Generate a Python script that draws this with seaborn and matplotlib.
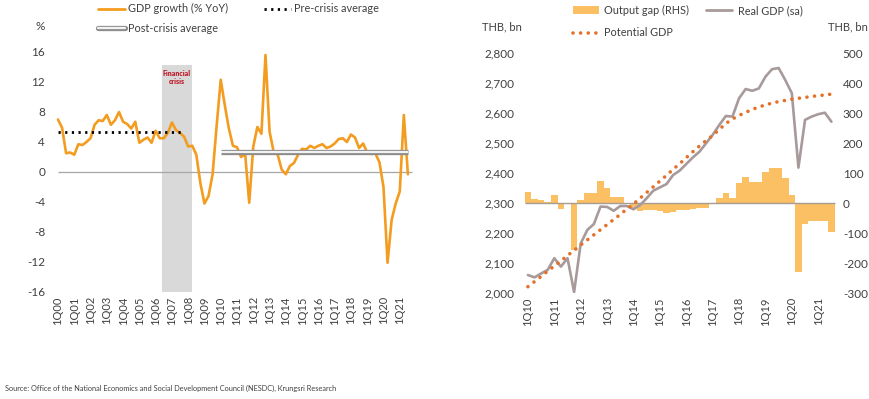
import numpy as np
import matplotlib
matplotlib.use("Agg")
import matplotlib.pyplot as plt
import seaborn as sns
from matplotlib.lines import Line2D
from matplotlib.patches import Patch

# --- DATA ---
# left panel: GDP growth % YoY, 1Q00 .. 3Q21
gdp_growth = [7.0, 5.9, 2.5, 2.6, 2.3, 3.7, 3.6, 4.0, 4.5, 6.3, 6.9, 6.8,
              7.6, 6.3, 6.9, 8.0, 6.7, 6.4, 5.8, 6.7, 3.9, 4.3, 4.6, 3.9,
              5.5, 4.5, 4.5, 5.2, 6.6, 5.6, 5.2, 4.7, 3.4, 3.5, 2.3, -1.5,
              -4.2, -3.2, -0.3, 6.2, 12.3, 8.9, 5.8, 3.5, 3.3, 2.0, 2.4, -4.1,
              3.4, 6.0, 5.1, 15.6, 5.4, 2.7, 2.3, 0.3, -0.3, 0.8, 1.2, 2.3,
              3.1, 3.0, 3.5, 3.2, 3.5, 3.7, 3.2, 3.4, 3.8, 4.4, 4.5, 4.0,
              5.0, 4.6, 3.2, 3.8, 2.6, 2.4, 2.5, 1.3, -2.0, -12.1, -6.4, -4.2,
              -2.6, 7.6, -0.3]
pre_crisis_avg = 5.3     # 1Q00 .. 4Q07
post_crisis_avg = 2.7    # 1Q10 .. 3Q21
left_xlabels = ["1Q00", "1Q01", "1Q02", "1Q03", "1Q04", "1Q05", "1Q06",
                "1Q07", "1Q08", "1Q09", "1Q10", "1Q11", "1Q12", "1Q13",
                "1Q14", "1Q15", "1Q16", "1Q17", "1Q18", "1Q19", "1Q20", "1Q21"]
left_yticks = [-16, -12, -8, -4, 0, 4, 8, 12, 16]

# right panel: 1Q10 .. 3Q21, THB bn
real_gdp = [2060, 2052, 2065, 2077, 2116, 2088, 2116, 2003, 2165, 2210,
            2230, 2288, 2287, 2274, 2290, 2290, 2279, 2293, 2316, 2341,
            2352, 2363, 2393, 2408, 2430, 2452, 2471, 2499, 2527, 2560,
            2590, 2588, 2649, 2680, 2674, 2682, 2721, 2746, 2750, 2710,
            2666, 2418, 2577, 2588, 2596, 2601, 2571]
potential_gdp = [2021, 2038, 2055, 2073, 2090, 2107, 2125, 2142, 2160, 2177,
                 2194, 2211, 2228, 2245, 2262, 2280, 2297, 2316, 2335, 2354,
                 2373, 2392, 2412, 2431, 2451, 2471, 2490, 2508, 2525, 2545,
                 2565, 2580, 2592, 2602, 2612, 2620, 2627, 2633, 2638, 2642,
                 2646, 2649, 2652, 2655, 2658, 2660, 2663]
output_gap = [36, 13, 9, 2, 27, -20, -4, -157, 9, 32,
              32, 73, 51, 19, 19, -2, -18, -27, -24, -22,
              -27, -34, -29, -23, -23, -21, -18, -16, 1, 18,
              32, 18, 66, 86, 71, 69, 104, 118, 118, 82,
              27, -229, -70, -60, -59, -60, -96]
right_xlabels = ["1Q10", "1Q11", "1Q12", "1Q13", "1Q14", "1Q15", "1Q16",
                 "1Q17", "1Q18", "1Q19", "1Q20", "1Q21"]
gdp_ticks = [2000, 2100, 2200, 2300, 2400, 2500, 2600, 2700, 2800]
gap_ticks = [-300, -200, -100, 0, 100, 200, 300, 400, 500]

source = ("Source: Office of the National Economics and Social Development "
          "Council (NESDC), Krungsri Research")

# --- STYLE ---
sns.set_style("white")
plt.rcParams["font.family"] = ["Lato", "DejaVu Sans"]
TXT = "#404040"
ORANGE = "#F39C1F"
BAR = "#FBC064"
MAUVE = "#A89A9A"
DOT_ORANGE = "#E5702A"

q = np.arange(len(gdp_growth))
r = np.arange(len(real_gdp))

fig = plt.figure(figsize=(8.7, 3.99), dpi=100)

# ---------------- left panel ----------------
ax1 = fig.add_axes([52 / 870, 107 / 399, 362 / 870, 240 / 399])
ax1.axvspan(25.5, 33.0, ymin=0, ymax=(14.3 + 16) / 32, color="#D9D9D9", lw=0, zorder=0)
ax1.text(29.25, 12.6, "Financial\ncrisis", color="#C0202F", fontsize=5,
         fontweight="heavy", ha="center", va="center", linespacing=1.0)
ax1.hlines(0, q[0], q[-1] + 1, color="#A6A6A6", lw=0.9, zorder=1)

sns.lineplot(x=q, y=gdp_growth, ax=ax1, color=ORANGE, lw=1.9, zorder=3)
sns.lineplot(x=q[:32], y=np.full(32, pre_crisis_avg), ax=ax1, color="black",
             lw=2.0, linestyle=(0, (0.8, 1.6)), zorder=4)
n_post = len(q) - 40
sns.lineplot(x=q[40:], y=np.full(n_post, post_crisis_avg), ax=ax1,
             color="#8C8C8C", lw=3.8, zorder=4, solid_capstyle="butt")
sns.lineplot(x=q[40:], y=np.full(n_post, post_crisis_avg), ax=ax1,
             color="#F2F2F2", lw=1.6, zorder=5, solid_capstyle="butt")

ax1.set_xlim(-1.47, 87.5)
ax1.set_ylim(-16, 16)
ax1.set_yticks(left_yticks)
ax1.set_yticklabels([str(v) for v in left_yticks])
ax1.set_xticks(np.arange(0, len(left_xlabels) * 4, 4))
ax1.set_xticklabels(left_xlabels, rotation=90, va="top", ha="center")
ax1.tick_params(axis="both", length=0, colors=TXT, labelsize=8.5)
ax1.tick_params(axis="x", pad=3, labelsize=8)
ax1.tick_params(axis="y", pad=5)
ax1.set_xlabel("")
ax1.set_ylabel("")
sns.despine(ax=ax1, left=True, bottom=True)
fig.text(40 / 870, 1 - 27 / 399, "%", color=TXT, fontsize=8.5, ha="center", va="center")

h_gdp = Line2D([], [], color=ORANGE, lw=2)
h_pre = Line2D([], [], color="black", lw=2, linestyle=(0, (0.8, 1.6)))
h_post = (Line2D([], [], color="#8C8C8C", lw=3.8), Line2D([], [], color="#F2F2F2", lw=1.6))
fig.legend([h_gdp, h_post, h_pre],
           ["GDP growth (% YoY)", "Post-crisis average", "Pre-crisis average"],
           loc="upper left", bbox_to_anchor=(88 / 870, 1.016), ncol=2, frameon=False,
           fontsize=7.8, handlelength=2.5, handletextpad=0.3, columnspacing=3.3,
           labelspacing=0.75, labelcolor=TXT)

# ---------------- right panel ----------------
ax2 = fig.add_axes([520 / 870, 106 / 399, 320 / 870, 240 / 399])
ax3 = ax2.twinx()

sns.barplot(x=r, y=output_gap, ax=ax3, native_scale=True, width=1,
            color=BAR, saturation=1, linewidth=0, errorbar=None)
ax3.hlines(0, r[0] - 0.5, r[-1] + 0.5, color="#A89C90", lw=1.0)

sns.lineplot(x=r, y=real_gdp, ax=ax2, color=MAUVE, lw=1.9, zorder=3)
sns.lineplot(x=r, y=potential_gdp, ax=ax2, color=DOT_ORANGE, lw=2.6,
             linestyle=(0, (0.01, 2.1)), dash_capstyle="round", zorder=4)

ax2.set_zorder(ax3.get_zorder() + 1)
ax2.patch.set_visible(False)

ax2.set_xlim(-1.2, 47.3)
ax2.set_ylim(2000, 2800)
ax3.set_ylim(-300, 500)
ax2.set_yticks(gdp_ticks)
ax2.set_yticklabels([f"{v:,}" for v in gdp_ticks])
ax3.set_yticks(gap_ticks)
ax3.set_yticklabels([str(v) for v in gap_ticks])
ax2.set_xticks(np.arange(0, len(right_xlabels) * 4, 4))
ax2.set_xticklabels(right_xlabels, rotation=90, va="top", ha="center")
for a in (ax2, ax3):
    a.tick_params(axis="both", length=0, colors=TXT, labelsize=8.5)
    a.set_xlabel("")
    a.set_ylabel("")
    for s in a.spines.values():
        s.set_visible(False)
ax2.tick_params(axis="x", pad=3, labelsize=8)
ax2.tick_params(axis="y", pad=4)
ax3.tick_params(axis="y", pad=2)

fig.text(502 / 870, 1 - 27 / 399, "THB, bn", color=TXT, fontsize=8, ha="center", va="center")
fig.text(848 / 870, 1 - 27 / 399, "THB, bn", color=TXT, fontsize=8, ha="center", va="center")

h_gap = Patch(facecolor=BAR, edgecolor="none")
h_real = Line2D([], [], color=MAUVE, lw=2)
h_pot = Line2D([], [], color=DOT_ORANGE, lw=2.6, linestyle=(0, (0.01, 2.1)),
               dash_capstyle="round")
fig.legend([h_gap, h_pot, h_real],
           ["Output gap (RHS)", "Potential GDP", "Real GDP (sa)"],
           loc="upper left", bbox_to_anchor=(563 / 870, 1.012), ncol=2, frameon=False,
           fontsize=7.8, handlelength=2.4, handletextpad=0.5, columnspacing=1.6,
           labelspacing=1.05, labelcolor=TXT)

fig.text(5 / 870, 1 - 388 / 399, source, color=TXT, fontsize=5.3, ha="left", va="center")

fig.savefig("out.png", dpi=100)
